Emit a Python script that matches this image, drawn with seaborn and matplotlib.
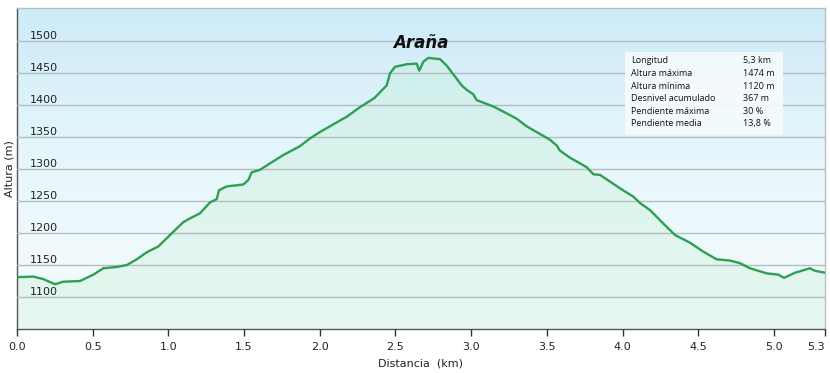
import numpy as np
import pandas as pd
import matplotlib
matplotlib.use("Agg")
import matplotlib.pyplot as plt
from matplotlib.colors import LinearSegmentedColormap
from matplotlib.patches import Rectangle
import seaborn as sns

# Elevation profile
dist_km = [0.0, 0.108, 0.174, 0.251, 0.306, 0.416, 0.504, 0.570, 0.658, 0.725,
           0.791, 0.857, 0.933, 0.989, 1.032, 1.098, 1.143, 1.209, 1.275, 1.319,
           1.334, 1.385, 1.495, 1.528, 1.550, 1.605, 1.671, 1.759, 1.869, 1.935,
           2.0, 2.178, 2.266, 2.36, 2.442, 2.464, 2.497, 2.574, 2.640, 2.657,
           2.684, 2.717, 2.794, 2.838, 2.937, 2.970, 3.014, 3.036, 3.146, 3.212,
           3.300, 3.366, 3.520, 3.565, 3.586, 3.652, 3.763, 3.807, 3.851, 3.983,
           4.071, 4.115, 4.181, 4.269, 4.346, 4.445, 4.533, 4.621, 4.709, 4.775,
           4.841, 4.952, 5.028, 5.066, 5.139, 5.238, 5.271, 5.337]
elev_m = [1131, 1132, 1128, 1120, 1124, 1125, 1135, 1145, 1147, 1150,
          1159, 1170, 1179, 1192, 1202, 1217, 1223, 1231, 1248, 1253,
          1267, 1273, 1276, 1283, 1295, 1299, 1309, 1322, 1336, 1348,
          1358, 1382, 1397, 1411, 1431, 1450, 1460, 1464, 1465, 1454,
          1468, 1474, 1472, 1462, 1431, 1424, 1417, 1408, 1398, 1390,
          1379, 1367, 1346, 1337, 1329, 1318, 1303, 1292, 1291, 1270,
          1257, 1247, 1236, 1215, 1197, 1185, 1171, 1159, 1157, 1153,
          1145, 1137, 1135, 1130, 1138, 1145, 1141, 1138]

x_ticks = [0.0, 0.5, 1.0, 1.5, 2.0, 2.5, 3.0, 3.5, 4.0, 4.5, 5.0, 5.337]
x_tick_labels = ["0.0", "0.5", "1.0", "1.5", "2.0", "2.5", "3.0", "3.5", "4.0", "4.5", "5.0", "5.3"]
y_ticks = [1100, 1150, 1200, 1250, 1300, 1350, 1400, 1450, 1500]

title = "Araña"
stat_names = ["Longitud", "Altura máxima", "Altura mínima", "Desnivel acumulado",
              "Pendiente máxima", "Pendiente media"]
stat_values = ["5,3 km", "1474 m", "1120 m", "367 m", "30 %", "13,8 %"]

df = pd.DataFrame({"dist": dist_km, "elev": elev_m})

sns.set_style("white")
plt.rcParams["font.family"] = ["DejaVu Sans"]

fig = plt.figure(figsize=(8.3, 3.73), dpi=100)
ax = fig.add_axes([17 / 830, 1 - 329 / 373, 808 / 830, 321 / 373])

xmin, xmax = 0.0, 5.337
ymin, ymax = 1050, 1552

# background gradient: light blue at top fading to near white
bg = LinearSegmentedColormap.from_list("bg", ["#f6fcfd", "#e8f7fc", "#cdebf8"])
grad = np.linspace(0, 1, 256).reshape(-1, 1)
ax.imshow(grad, cmap=bg, origin="lower", aspect="auto",
          extent=[xmin, xmax, ymin, ymax], zorder=0)

# green-tinted area under the profile
ax.fill_between(df["dist"], df["elev"], ymin, color="#bdeecb", alpha=0.28,
                linewidth=0, zorder=1)

sns.lineplot(data=df, x="dist", y="elev", ax=ax, sort=False,
             color="#2e9f55", linewidth=1.7, zorder=3)

ax.set_xlim(xmin, xmax)
ax.set_ylim(ymin, ymax)

ax.set_yticks(y_ticks)
ax.yaxis.grid(True, color="#b3bcc0", linewidth=1)
ax.xaxis.grid(False)
ax.set_axisbelow(False)
for gl in ax.get_ygridlines():
    gl.set_zorder(2)

ax.tick_params(axis="y", length=0, pad=-9, labelsize=8, labelcolor="#222222")
for lab in ax.get_yticklabels():
    lab.set_horizontalalignment("left")
    lab.set_verticalalignment("bottom")

ax.set_xticks(x_ticks)
ax.set_xticklabels(x_tick_labels)
ax.tick_params(axis="x", direction="out", length=5, width=1, color="#333333",
               labelsize=8, labelcolor="#222222", pad=4, bottom=True)
ax.get_xticklabels()[-1].set_horizontalalignment("right")

ax.set_xlabel("Distancia  (km)", fontsize=8, color="#222222", labelpad=5)
ax.set_ylabel("Altura (m)", fontsize=8, color="#222222", labelpad=2)

for side in ["left", "bottom"]:
    ax.spines[side].set_color("#555555")
    ax.spines[side].set_linewidth(1)
for side in ["top", "right"]:
    ax.spines[side].set_color("#b8c0c4")
    ax.spines[side].set_linewidth(1)

ax.text(2.67, 1498, title, ha="center", va="center", fontsize=12,
        fontweight="bold", fontstyle="italic", color="#111111", zorder=5)

# statistics box
ax.add_patch(Rectangle((0.7525, 0.604), 0.1955, 0.259, transform=ax.transAxes,
                       facecolor="#f6fbfd", edgecolor="none", alpha=0.9, zorder=4))
for i, (name, val) in enumerate(zip(stat_names, stat_values)):
    yy = 0.835 - i * 0.039
    ax.text(0.760, yy, name, transform=ax.transAxes, fontsize=6.5,
            family="Open Sans", color="#111111", va="center", zorder=5)
    ax.text(0.8985, yy, val, transform=ax.transAxes, fontsize=6.5,
            family="Open Sans", color="#111111", va="center", zorder=5)

fig.savefig("out.png", dpi=100, facecolor="white")
